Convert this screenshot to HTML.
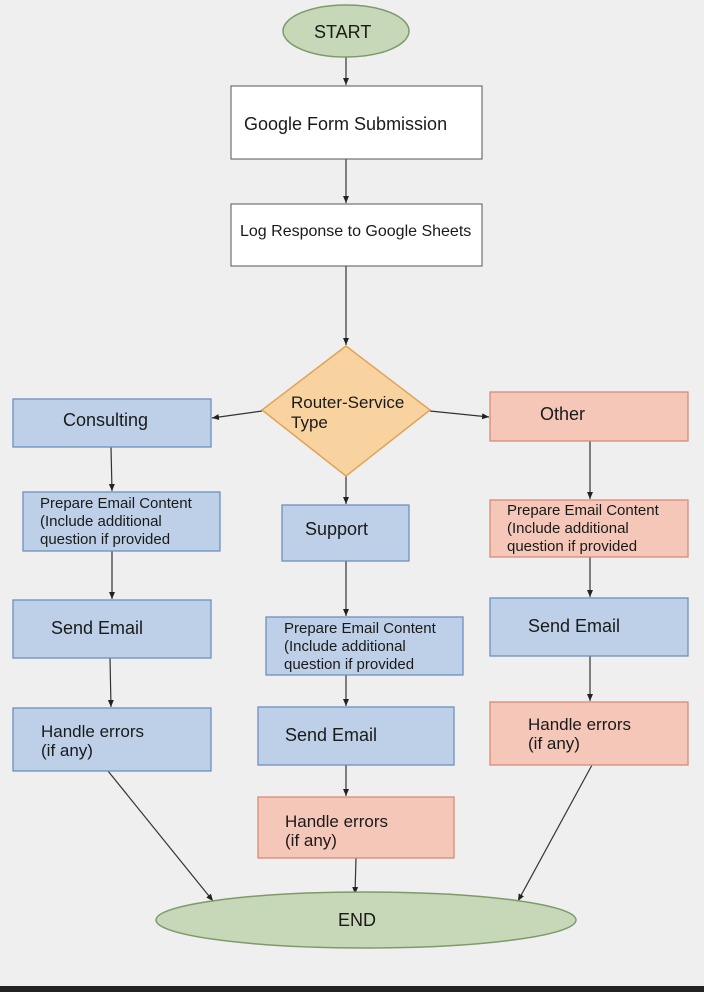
<!DOCTYPE html>
<html><head><meta charset="utf-8"><style>
html,body{margin:0;padding:0;background:#efefef;}
svg{display:block;font-family:"Liberation Sans",sans-serif;}
</style></head><body>
<svg width="704" height="992" viewBox="0 0 704 992" xmlns="http://www.w3.org/2000/svg">
<defs><marker id="a" markerWidth="8" markerHeight="8" refX="7" refY="4" orient="auto" markerUnits="userSpaceOnUse"><path d="M0,1 L7,4 L0,7 z" fill="#222"/></marker></defs>
<rect width="704" height="992" fill="#efefef"/>
<rect y="986" width="704" height="6" fill="#222"/>
<g stroke="#333" stroke-width="1.2" fill="none" marker-end="url(#a)">
<line x1="346" y1="57" x2="346" y2="85"/>
<line x1="346" y1="159" x2="346" y2="203"/>
<line x1="346" y1="266" x2="346" y2="345"/>
<line x1="262" y1="411" x2="212" y2="418"/>
<line x1="430" y1="411" x2="489" y2="417"/>
<line x1="346" y1="476" x2="346" y2="504"/>
<line x1="111" y1="447" x2="112" y2="491"/>
<line x1="112" y1="551" x2="112" y2="599"/>
<line x1="110" y1="658" x2="111" y2="707"/>
<line x1="108" y1="771" x2="213" y2="901"/>
<line x1="590" y1="441" x2="590" y2="499"/>
<line x1="590" y1="557" x2="590" y2="597"/>
<line x1="590" y1="656" x2="590" y2="701"/>
<line x1="592" y1="765" x2="518" y2="901"/>
<line x1="346" y1="561" x2="346" y2="616"/>
<line x1="346" y1="675" x2="346" y2="706"/>
<line x1="346" y1="765" x2="346" y2="796"/>
<line x1="356" y1="858" x2="355" y2="894"/>
</g>
<ellipse cx="346" cy="31" rx="63" ry="26" fill="#c6d8b7" stroke="#7e9a6c" stroke-width="1.5"/>
<ellipse cx="366" cy="920" rx="210" ry="28" fill="#c6d8b7" stroke="#7e9a6c" stroke-width="1.5"/>
<rect x="231" y="86" width="251" height="73" fill="#fff" stroke="#555"/>
<rect x="231" y="204" width="251" height="62" fill="#fff" stroke="#555"/>
<polygon points="346,346 430,410 346,476 262,410" fill="#f8d3a0" stroke="#e0a458" stroke-width="1.5"/>
<g fill="#bdd0e8" stroke="#6d8fbf" stroke-width="1.3">
<rect x="13" y="399" width="198" height="48"/>
<rect x="23" y="492" width="197" height="59"/>
<rect x="282" y="505" width="127" height="56"/>
<rect x="13" y="600" width="198" height="58"/>
<rect x="266" y="617" width="197" height="58"/>
<rect x="490" y="598" width="198" height="58"/>
<rect x="13" y="708" width="198" height="63"/>
<rect x="258" y="707" width="196" height="58"/>
</g>
<g fill="#f4c7b9" stroke="#d88a78" stroke-width="1.3">
<rect x="490" y="392" width="198" height="49"/>
<rect x="490" y="500" width="198" height="57"/>
<rect x="490" y="702" width="198" height="63"/>
<rect x="258" y="797" width="196" height="61"/>
</g>
<g fill="#1a1a1a" font-size="18">
<text x="314" y="38">START</text>
<text x="338" y="926">END</text>
<text x="244" y="130">Google Form Submission</text>
<text x="240" y="236" font-size="16">Log Response to Google Sheets</text>
<text x="291" y="408" font-size="17">Router-Service</text>
<text x="291" y="428" font-size="17">Type</text>
<text x="63" y="426">Consulting</text>
<text x="540" y="420">Other</text>
<text x="305" y="535">Support</text>
<text x="51" y="634">Send Email</text>
<text x="285" y="741">Send Email</text>
<text x="528" y="632">Send Email</text>
<text x="41" y="737" font-size="17">Handle errors</text>
<text x="41" y="756" font-size="17">(if any)</text>
<text x="285" y="827" font-size="17">Handle errors</text>
<text x="285" y="846" font-size="17">(if any)</text>
<text x="528" y="730" font-size="17">Handle errors</text>
<text x="528" y="749" font-size="17">(if any)</text>
<g font-size="15">
<text x="40" y="508">Prepare Email Content</text>
<text x="40" y="526">(Include additional</text>
<text x="40" y="544">question if provided</text>
<text x="507" y="515">Prepare Email Content</text>
<text x="507" y="533">(Include additional</text>
<text x="507" y="551">question if provided</text>
<text x="284" y="633">Prepare Email Content</text>
<text x="284" y="651">(Include additional</text>
<text x="284" y="669">question if provided</text>
</g>
</g>
</svg>
</body></html>
